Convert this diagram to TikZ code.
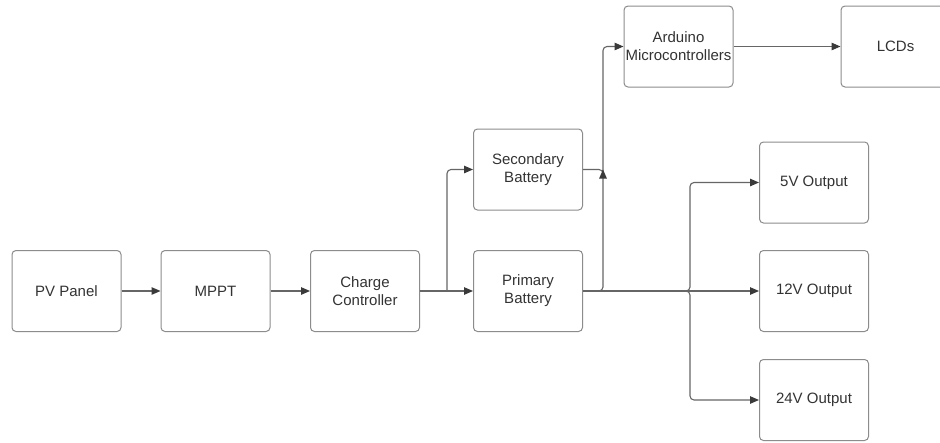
\documentclass[tikz,border=0pt]{standalone}
\usepackage{fontspec}
\setmainfont{Liberation Sans}
\usetikzlibrary{arrows.meta}
\definecolor{boxline}{HTML}{8C8C8C}
\definecolor{wire}{HTML}{666666}
\definecolor{tip}{HTML}{3A3A3A}
\definecolor{ink}{HTML}{333333}
\begin{document}
\begin{tikzpicture}[x=1pt,y=-1pt,
  block/.style={draw=boxline, line width=1pt, rounded corners=4pt, fill=white,
    minimum width=109pt, minimum height=81pt, inner sep=0pt,
    align=center, text=ink, font=\fontsize{15}{18}\selectfont},
  wireline/.style={draw=wire, line width=1.1pt, rounded corners=4pt},
  flow/.style={wireline, -{Triangle[length=9pt,width=7.5pt,color=tip]}}]
\useasboundingbox[fill=white] (0,0) rectangle (940,442);

% blocks
\node[block] (pv)   at (66.5,291)  {PV Panel};
\node[block] (mppt) at (215.5,291) {MPPT};
\node[block] (cc)   at (365,291)   {Charge\\Controller};
\node[block] (prim) at (528,291)   {Primary\\Battery};
\node[block] (sec)  at (528,169.5) {Secondary\\Battery};
\node[block] (ard)  at (678.5,46.5){Arduino\\Microcontrollers};
\node[block] (lcd)  at (895.5,46.5){LCDs};
\node[block] (v5)   at (814,182.5) {5V Output};
\node[block] (v12)  at (814,291)   {12V Output};
\node[block] (v24)  at (814,400)   {24V Output};

% junction points of the branching wires
\coordinate (split) at (447,291);
\coordinate (up)    at (603,169.5);
\coordinate (bus)   at (690,291);

% main chain
\draw[flow] (pv.east) -- (mppt.west);
\draw[flow] (mppt.east) -- (cc.west);
\draw[flow] (cc.east) -- (prim.west);
\draw[flow] (split) |- (sec.west);

% batteries to the controller board
\draw[flow] (sec.east) -| ([yshift=-1pt]up) |- (ard.west);
\draw[flow] (prim.east) -| (up);
\draw[flow] (ard.east) -- (lcd.west);

% output rails
\draw[flow] (prim.east) -- (v12.west);
\draw[flow] (prim.east) -- (bus) |- (v5.west);
\draw[flow] (prim.east) -- (bus) |- (v24.west);
\end{tikzpicture}
\end{document}
